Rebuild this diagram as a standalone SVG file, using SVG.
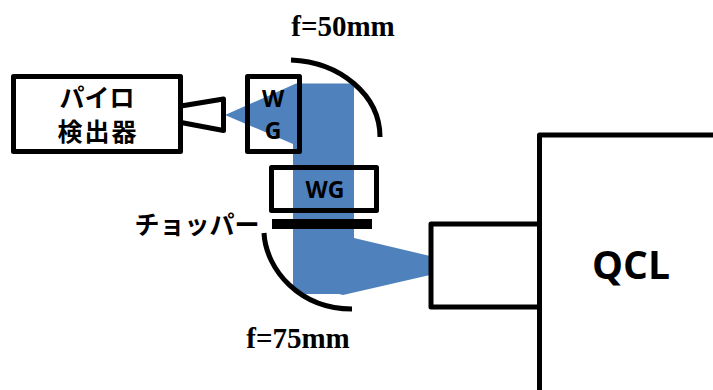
<svg xmlns="http://www.w3.org/2000/svg" width="713" height="390" viewBox="0 0 713 390">
<style>
.box{fill:none;stroke:#000;stroke-width:5;stroke-linejoin:round}
.mir{fill:none;stroke:#000;stroke-width:5}
.beam{fill:#4f81bd}
.jp{font-family:"Noto Sans CJK JP","Noto Sans",sans-serif;font-weight:700;font-size:25px;fill:#000;text-anchor:middle}
.lat{font-family:"Open Sans","Noto Sans",sans-serif;font-weight:700;fill:#000;text-anchor:middle}
.f{font-family:"Liberation Serif",serif;font-weight:700;font-size:29px;fill:#000;text-anchor:middle}
</style>
<rect width="713" height="390" fill="#fff"/>
<g id="beam">
<path class="beam" d="M225 115L296 83.500H354V238L430 256V275L343 295L339 294H305L293 287V144Z"/>
</g>
<g id="connectors">
<path id="mirror-50" class="mir" d="M291 60C340 62 380 95 380 137"/>
<path id="mirror-75" class="mir" d="M264 233C266 270 300 309 352 309"/>
</g>
<g id="pyro">
<rect class="box" x="13.500" y="76.500" width="167" height="75"/>
<path class="box" d="M181 106L223.500 99V130.500L181 122.500"/>
<text class="jp" x="97" y="107">パイロ</text>
<text class="jp" x="98" y="141" letter-spacing="2">検出器</text>
</g>
<g id="wg1">
<rect class="box" x="247.500" y="76.500" width="52" height="75"/>
<text class="lat" x="273" y="107" font-size="23">W</text>
<text class="lat" x="273" y="139" font-size="23">G</text>
</g>
<g id="wg2">
<rect class="box" x="271.500" y="167.500" width="105" height="43"/>
<text class="lat" x="325" y="198" font-size="23">WG</text>
</g>
<g id="chopper">
<rect x="272" y="219" width="100" height="10" fill="#000"/>
<text class="jp" x="197" y="234">チョッパー</text>
</g>
<g id="labels">
<text class="f" x="343" y="36">f=50mm</text>
<text class="f" x="298" y="348">f=75mm</text>
</g>
<g id="qcl-head">
<rect class="box" x="431" y="224" width="108.500" height="83"/>
</g>
<g id="qcl">
<path d="M539.500 390V135H713" fill="none" stroke="#000" stroke-width="5" stroke-linejoin="round"/>
<text class="lat" x="631" y="279" font-size="39">QCL</text>
</g>
</svg>
